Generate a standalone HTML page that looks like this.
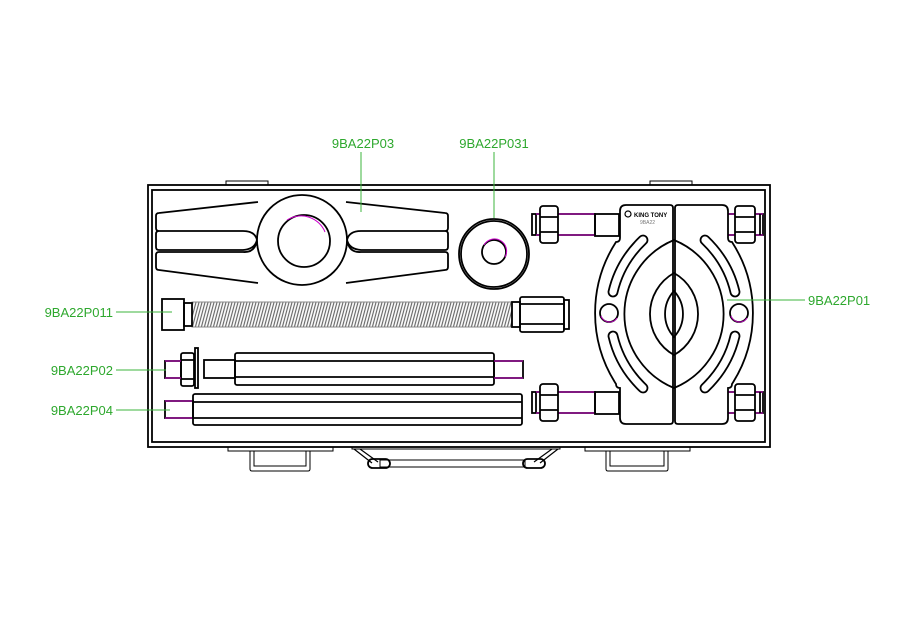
<!DOCTYPE html>
<html><head><meta charset="utf-8"><style>
html,body{margin:0;padding:0;background:#fff}
svg{display:block}
text{font-family:"Liberation Sans",sans-serif;font-size:13px;fill:#2ea82e}
</style></head><body>
<svg width="900" height="630" viewBox="0 0 900 630" xmlns="http://www.w3.org/2000/svg">
<defs>
<pattern id="th" width="3" height="6" patternUnits="userSpaceOnUse" patternTransform="skewX(-15)">
<rect width="3" height="6" fill="#fff"/><line x1="1" y1="0" x2="1" y2="6" stroke="#666" stroke-width="1.2"/>
</pattern>
</defs>
<g fill="none" stroke="#000" stroke-width="1.8">
<!-- case -->
<rect x="226" y="181" width="42" height="4" stroke-width="1"/>
<rect x="650" y="181" width="42" height="4" stroke-width="1"/>
<rect x="148" y="185" width="622" height="262" fill="#fff"/>
<rect x="152" y="190" width="613" height="252"/>
<!-- bottom handles -->
<rect x="228" y="447" width="105" height="4" stroke-width="1"/>
<path d="M250 451 V469 Q250 471 252 471 H308 Q310 471 310 469 V451 M254 451 V466 H306 V451" stroke-width="1"/>
<rect x="585" y="447" width="105" height="4" stroke-width="1"/>
<path d="M606 451 V469 Q606 471 608 471 H666 Q668 471 668 469 V451 M610 451 V466 H664 V451" stroke-width="1"/>
<rect x="352" y="447" width="208" height="2" stroke-width="1"/>
<path d="M354 449 L372 463 M360 449 L378 462 M558 449 L540 463 M552 449 L534 462" stroke-width="1.2"/>
<rect x="368" y="459" width="22" height="9" rx="4.5"/>
<rect x="523" y="459" width="22" height="9" rx="4.5"/>
<rect x="380" y="460" width="145" height="7" stroke-width="1"/>

<!-- P03 arms -->
<path d="M159 213 L258 202 M159 231 L243 231 Q255 231 257 240 Q255 249 243 250 L159 250 Q156 250 156 247 V234 Q156 231 159 231 Z M159 213 Q156 213 156 216 V228 Q156 231 159 231" />
<path d="M159 252 L243 252 Q255 253 257 240 M159 252 Q156 252 156 255 V267 Q156 270 159 270 L258 283" />
<path d="M445 213 L346 202 M445 231 L361 231 Q349 231 347 240 Q349 249 361 250 L445 250 Q448 250 448 247 V234 Q448 231 445 231 Z M445 213 Q448 213 448 216 V228 Q448 231 445 231" />
<path d="M445 252 L361 252 Q349 253 347 240 M445 252 Q448 252 448 255 V267 Q448 270 445 270 L346 283" />
<circle cx="302" cy="240" r="45" fill="#fff"/>
<circle cx="304" cy="241" r="26"/>
<path d="M287 220 A26 26 0 0 1 325 232" stroke="#c0c" stroke-width="1"/>
<!-- bushing -->
<circle cx="494" cy="254" r="35"/>
<circle cx="494" cy="254" r="33"/>
<circle cx="494" cy="252" r="12"/>
<path d="M484 245 A12 12 0 0 1 505 257" stroke="#c0c" stroke-width="1"/>

<!-- P011 screw -->
<rect x="192" y="302" width="320" height="25" fill="url(#th)" stroke="#888" stroke-width="1"/>
<rect x="162" y="299" width="22" height="31"/>
<rect x="184" y="303" width="8" height="23"/>
<rect x="512" y="302" width="8" height="25"/>
<rect x="520" y="297" width="44" height="35" rx="2"/>
<path d="M520 304 H564 M520 324 H564"/>
<rect x="564" y="300" width="5" height="29"/>

<!-- P02 -->
<rect x="165" y="361" width="16" height="17"/>
<rect x="181" y="353" width="13" height="33" rx="2"/>
<path d="M181 360 H194 M181 379 H194"/>
<rect x="195" y="348" width="3" height="40" fill="#fff"/>
<rect x="204" y="360" width="31" height="18"/>
<rect x="235" y="353" width="259" height="32" rx="2"/>
<path d="M235 361 H494 M235 377 H494"/>
<rect x="494" y="361" width="29" height="17"/>
<path d="M165 361 H181 M165 378 H181 M494 361 H523 M494 378 H523" stroke="#c0c" stroke-width="1"/>

<!-- P04 -->
<rect x="165" y="401" width="28" height="17"/>
<path d="M165 401 H193 M165 418 H193" stroke="#c0c" stroke-width="1"/>
<rect x="193" y="394" width="329" height="31" rx="2"/>
<path d="M193 402 H522 M193 418 H522"/>

<!-- bolts -->
<g id="bl">
<rect x="532" y="214" width="63" height="21"/>
<path d="M536 214 V235" />
<path d="M536 214 H595 M536 235 H595" stroke="#c0c" stroke-width="1"/>
<rect x="540" y="206" width="18" height="37" rx="3" fill="#fff"/>
<path d="M540 217 H558 M540 232 H558"/>
<rect x="595" y="214" width="24" height="22"/>
</g>
<use href="#bl" y="178"/>
<rect x="727" y="214" width="36" height="21"/>
<path d="M727 214 H763 M727 235 H763" stroke="#c0c" stroke-width="1"/>
<rect x="735" y="206" width="20" height="37" rx="3" fill="#fff"/>
<path d="M735 217 H755 M735 232 H755 M760 214 V235"/>
<rect x="727" y="392" width="36" height="21"/>
<path d="M727 392 H763 M727 413 H763" stroke="#c0c" stroke-width="1"/>
<rect x="735" y="384" width="20" height="37" rx="3" fill="#fff"/>
<path d="M735 395 H755 M735 410 H755 M760 392 V413"/>

<!-- separator plate -->
<path d="M626 205 H670 Q673 205 673 208 V421 Q673 424 670 424 H626 Q620 424 620 418 V388 Q616 388 616 384 A131 131 0 0 1 616 242 Q620 242 620 238 V211 Q620 205 626 205 Z" fill="#fff"/>
<path d="M722 205 H678 Q675 205 675 208 V421 Q675 424 678 424 H722 Q728 424 728 418 V388 Q732 388 732 384 A131 131 0 0 0 732 242 Q728 242 728 238 V211 Q728 205 722 205 Z" fill="#fff"/>
<path d="M674 240 A80 80 0 0 0 674 388 A80 80 0 0 0 674 240 Z"/>
<path d="M674 273 A47 47 0 0 0 674 355 A47 47 0 0 0 674 273 Z"/>
<path d="M674 291 A34 34 0 0 0 674 337 A34 34 0 0 0 674 291 Z"/>
<circle cx="609" cy="313" r="9"/><circle cx="739" cy="313" r="9"/>
<path d="M601 316 A9 9 0 0 0 617 318 M731 316 A9 9 0 0 0 747 318" stroke="#c0c" stroke-width="1"/>
<g stroke-width="10.8" stroke-linecap="round">
<path d="M643 240 Q620 262 613 292 M613 336 Q620 366 643 388 M705 240 Q728 262 735 292 M735 336 Q728 366 705 388"/>
</g>
<g stroke-width="7.2" stroke-linecap="round" stroke="#fff">
<path d="M643 240 Q620 262 613 292 M613 336 Q620 366 643 388 M705 240 Q728 262 735 292 M735 336 Q728 366 705 388"/>
</g>
<circle cx="628" cy="214" r="3" stroke-width="1.2"/>
</g>
<text x="634" y="217" style="font-size:6px;fill:#000;font-weight:bold">KING TONY</text>
<text x="640" y="224" style="font-size:5px;fill:#777">9BA22</text>

<!-- leaders -->
<g stroke="#3cb43c" stroke-width="1">
<path d="M361 152 V212 M494 152 V218 M727 300 H805 M116 312 H172 M116 370 H166 M116 410 H170"/>
</g>
<text x="363" y="148" text-anchor="middle">9BA22P03</text>
<text x="494" y="148" text-anchor="middle">9BA22P031</text>
<text x="808" y="305">9BA22P01</text>
<text x="113" y="317" text-anchor="end">9BA22P011</text>
<text x="113" y="375" text-anchor="end">9BA22P02</text>
<text x="113" y="415" text-anchor="end">9BA22P04</text>
</svg>
</body></html>
